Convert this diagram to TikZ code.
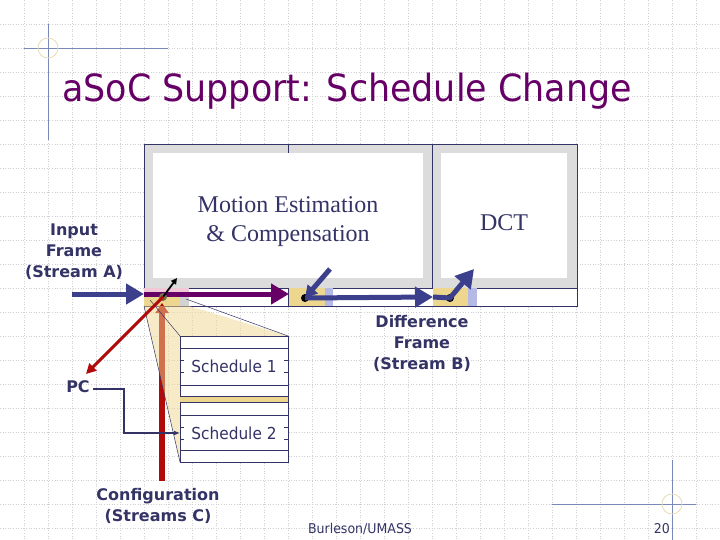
\documentclass[tikz,border=0pt]{standalone}
\usepackage{fontspec}
\setmainfont{Liberation Serif}
\newfontfamily\tahoma[FakeStretch=0.93]{DejaVu Sans}
\newfontfamily\labelfont{DejaVu Sans}
\usetikzlibrary{positioning,arrows.meta}

\definecolor{navy}{HTML}{333366}
\definecolor{titlepurple}{HTML}{660066}
\definecolor{arrowblue}{HTML}{3B3F8C}
\definecolor{tilegray}{HTML}{DCDCDC}
\definecolor{celly}{HTML}{EDD78F}
\definecolor{celll}{HTML}{B4B9E6}
\definecolor{redc}{HTML}{B00A0A}
\definecolor{gridc}{HTML}{D0D0D4}
\definecolor{fanc}{HTML}{F0D890}
\definecolor{decoblue}{HTML}{7A88B8}
\definecolor{ringc}{HTML}{E6DDB4}
\definecolor{dotc}{HTML}{7C6E4A}
\definecolor{pinkc}{HTML}{F0C8D8}

\begin{document}
\begin{tikzpicture}[x=1pt, y=-1pt,
  gridline/.style={draw=gridc, line width=0.6pt, dotted},
  deco/.style={draw=decoblue, line width=0.8pt},
  ring/.style={draw=ringc, line width=0.8pt},
  tile/.style={rectangle, draw=navy, line width=0.7pt, fill=tilegray, inner sep=0pt},
  pe/.style={rectangle, fill=white, inner sep=0pt, align=center, text=navy,
             font=\fontsize{24}{29}\selectfont},
  lbl/.style={font=\labelfont\bfseries\fontsize{16}{21}\selectfont, text=navy,
              align=center, inner sep=0pt},
  small/.style={font=\tahoma\fontsize{13.5}{16}\selectfont, text=navy, inner sep=0pt},
  schtext/.style={font=\tahoma\fontsize{16.5}{20}\selectfont, text=navy, fill=white,
                  minimum width=100pt, minimum height=15pt, inner sep=0pt},
  swdot/.style={circle, fill=black, inner sep=0pt, minimum size=8pt},
  fat/.style={line width=5pt, -{Triangle[length=18pt,width=20pt]}},
  rowline/.style={draw=navy, line width=0.6pt},
  fanedge/.style={draw=navy, line width=0.5pt}
]
\useasboundingbox (0,0) rectangle (720,540);

% background grid
\foreach \g in {24,48,...,696} \draw[gridline] (\g,0) -- (\g,540);
\foreach \g in {24,48,...,528} \draw[gridline] (0,\g) -- (720,\g);

% corner marks
\draw[deco] (24,48) -- (168,48);
\draw[deco] (48,24) -- (48,140);
\draw[ring] (48,48) circle (10);
\draw[deco] (552,504) -- (696,504);
\draw[deco] (672,460) -- (672,540);
\draw[ring] (672,504) circle (10);

\node[font=\tahoma\fontsize{37.5}{44}\selectfont, text=titlepurple, anchor=base west,
      inner sep=0pt] (title) at (62,102) {aSoC Support: Schedule Change};

% tiles
\node[tile, minimum width=288pt, minimum height=144pt, anchor=north west] (metile) at (144,144) {};
\node[tile, minimum width=145pt, minimum height=144pt, anchor=north west] (dcttile) at (432,144) {};
\draw[navy, line width=0.7pt] (288,144) -- (288,153);
\node[pe, minimum width=270pt, minimum height=125pt] (me) at (288,215.5) {};
\node[pe] (metext) at ([yshift=-6pt]me.center) {Motion Estimation\\\& Compensation};
\node[pe, minimum width=126pt, minimum height=125pt] (dct) at (504,215.5) {};
\node[pe] (dcttext) at ([yshift=-7pt]dct.center) {DCT};

% switch row
\node[tile, fill=white, minimum width=433pt, minimum height=18pt, anchor=north west] (strip) at (144,288) {};
\fill[celly] (144.4,288.4) rectangle (180,305.6);
\fill[pinkc] (144.4,288.4) rectangle (189,292);
\fill[celll] (180,292) rectangle (189,296);
\fill[gray!35] (180,296) rectangle (189,305.6);
\fill[celly] (289,288.4) rectangle (325,305.6);
\fill[celll] (325,288.4) rectangle (333,305.6);
\fill[celly] (433,288.4) rectangle (468,305.6);
\fill[celll] (468,288.4) rectangle (477,305.6);
\draw[navy, line width=0.7pt] (288,288) -- (288,306);

\coordinate (inA) at (72,294);
\coordinate (tile1W) at (144,294);
\coordinate (tile2W) at (289,294);
\coordinate (tile3W) at (433,297);
\coordinate (meout) at (330,269);
\coordinate (dctin) at (474,269);
\coordinate (up1) at (177,278);
\coordinate (pcarrow) at (86,374);
\coordinate (cfgbot) at (162,481);
\coordinate (cfgtop) at (162,303);

\draw[fat, arrowblue] (inA) -- (tile1W);
\draw[fat, titlepurple] (tile1W) -- (tile2W);

\node[swdot, fill=dotc] (sw1) at (163,297) {};
\node[swdot] (sw2) at (305,298) {};
\node[swdot] (sw3) at (450,298) {};

\draw[fat, arrowblue] (sw2.center) -- (tile3W);
\draw[fat, arrowblue] (tile3W) -- (sw3.center) -- (dctin);
\draw[line width=5pt, arrowblue, -{Triangle[length=12pt,width=13pt]}] (meout) -- (sw2.center);
\draw[line width=1.8pt, -{Triangle[length=6pt,width=6pt]}] (sw1.center) -- (up1);

% configuration stream
\draw[line width=6pt, redc, -{Triangle[length=10pt,width=13pt]}] (cfgbot) -- (cfgtop);

% zoom-out fan
\fill[fanc, opacity=0.5] (144,306) -- (180,462) -- (180,336) -- (288,336) -- (189,306) -- cycle;
\draw[fanedge] (144,306) -- (180,462);
\draw[fanedge] (150,300) -- (180,336);
\draw[fanedge] (186,299) -- (288,336);

% schedule memory
\node[rectangle, draw=navy, line width=0.7pt, fill=white, minimum width=108pt,
      minimum height=126pt, inner sep=0pt, anchor=north west] (sched) at (180,336) {};
\fill[celly] (180.4,396.7) rectangle (287.6,402.7);
\foreach \ry in {348.3,360.7,372.7,385,396.7,402.7,415,427.3,439.3,450}
  \draw[rowline] (180,\ry) -- (288,\ry);
\node[schtext] (sched1) at (234,366.5) {Schedule 1};
\node[schtext] (sched2) at (234,433) {Schedule 2};

\draw[line width=3pt, redc, -{Triangle[length=10pt,width=10pt]}] (sw1.center) -- (pcarrow);

% labels
\node[lbl] (input) at (74,252) {Input\\Frame\\(Stream A)};
\node[lbl] (pc) at (78,387) {PC};
\node[lbl] (diff) at (422,343) {Difference\\Frame\\(Stream B)};
\node[lbl] (cfg) at (158,506) {Configuration\\(Streams C)};

\coordinate (pcturn) at (124,389);
\draw[navy, line width=1.2pt, -{Latex[length=6pt,width=5pt]}]
  ([xshift=3pt,yshift=-2pt]pc.east) -- (pcturn) |- (sched.west |- sched2.west);

% footer
\node[small] (footer) at (360,529) {Burleson/UMASS};
\node[small, anchor=east] (pageno) at (670,529) {20};
\end{tikzpicture}
\end{document}
